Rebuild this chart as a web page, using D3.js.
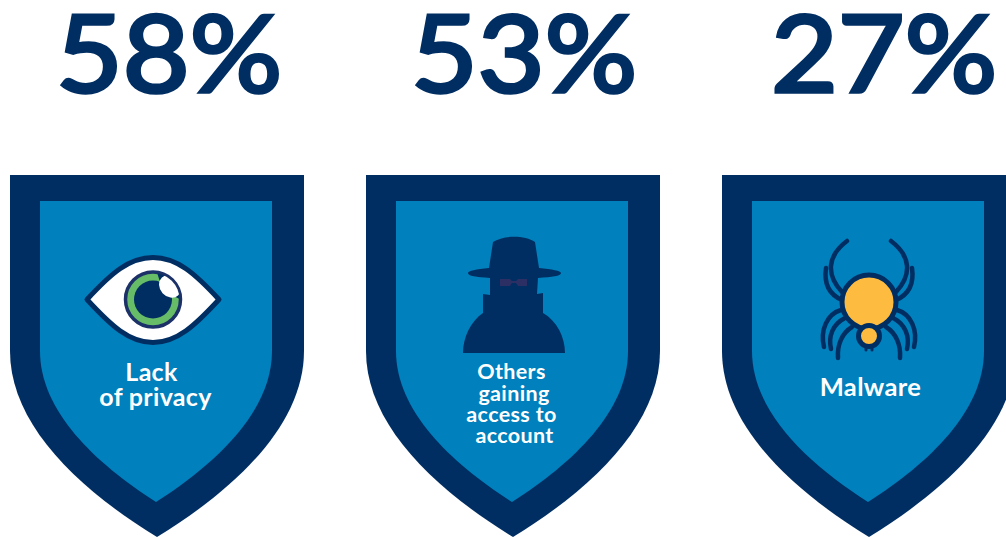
<!DOCTYPE html>
<html>
<head>
<meta charset="utf-8">
<script src="https://cdnjs.cloudflare.com/ajax/libs/d3/7.8.5/d3.min.js"></script>
<style>
  html, body { margin: 0; padding: 0; background: #fff; }
  svg { display: block; }
  text { font-family: Lato, "Open Sans", sans-serif; }
</style>
</head>
<body>
<svg id="chart" width="1006" height="537"></svg>
<script>
// Share of respondents worried about each risk
const categories = ["Lack of privacy", "Others gaining access to account", "Malware"];
const shares = [58, 53, 27];
const labelLines = [
  ["Lack", "of privacy"],
  ["Others", "gaining", "access to", "account"],
  ["Malware"]
];

const NAVY = "#002e62", BLUE = "#0080bc", GREEN = "#66bc67", GOLD = "#fdbc40", WHITE = "#ffffff";

const svg = d3.select("#chart");

// One column per category; each column holds a badge 294 wide
const x = d3.scaleBand().domain(categories).range([10, 1078]).paddingInner(0).paddingOuter(0);

// Badge outline, local coordinates with the top-left corner at the origin
function outerShield() {
  const p = d3.path();
  p.moveTo(0, 0);
  p.lineTo(294, 0);
  p.lineTo(294, 176);
  p.bezierCurveTo(294, 246, 232, 310, 147, 362);
  p.bezierCurveTo(62, 310, 0, 246, 0, 176);
  p.closePath();
  return p.toString();
}
function innerShield() {
  const p = d3.path();
  p.moveTo(30, 26);
  p.lineTo(262, 26);
  p.lineTo(262, 176);
  p.bezierCurveTo(262, 236, 207, 288, 146, 327);
  p.bezierCurveTo(85, 288, 30, 236, 30, 176);
  p.closePath();
  return p.toString();
}

const columns = svg.selectAll("g.column")
  .data(categories.map((c, i) => ({ category: c, share: shares[i], lines: labelLines[i], i })))
  .join("g")
  .attr("class", "column")
  .attr("transform", d => `translate(${x(d.category)},0)`);

columns.append("path").attr("d", outerShield()).attr("transform", "translate(0,175)").attr("fill", NAVY);
columns.append("path").attr("d", innerShield()).attr("transform", "translate(0,175)").attr("fill", BLUE);

// Headline percentages, stretched a little and thickened to a medium weight
const headlineX = [46, 45, 49];
columns.append("text")
  .attr("x", (d, i) => headlineX[i])
  .attr("y", 92)
  .attr("font-size", 107)
  .attr("font-weight", 400)
  .attr("fill", NAVY)
  .attr("stroke", NAVY)
  .attr("stroke-width", 3.6)
  .attr("textLength", 226)
  .attr("lengthAdjust", "spacingAndGlyphs")
  .text(d => d.share + "%");

// Caption lines inside each badge
const lineX = [[141.5, 145.5], [145.5, 148, 145.5, 148.5], [148.5]];
const lineY = [[381, 406], [379, 401, 422, 443], [396]];
const lineSize = [25, 21.5, 25.5];
const lineSpacing = [0.3, 0.35, 0.35];
columns.each(function (d, i) {
  d3.select(this).selectAll("text.caption")
    .data(d.lines)
    .join("text")
    .attr("class", "caption")
    .attr("x", (_, j) => lineX[i][j])
    .attr("y", (_, j) => lineY[i][j])
    .attr("text-anchor", "middle")
    .attr("font-size", lineSize[i])
    .attr("letter-spacing", lineSpacing[i])
    .attr("font-weight", 700)
    .attr("fill", WHITE)
    .text(t => t);
});

// Eye icon for the privacy badge
const eye = svg.append("g").attr("transform", "translate(153,299.5)");
eye.append("path")
  .attr("d", "M-66,0 C-42,-26 -24,-42 0,-42 C24,-42 42,-26 66,0 C42,26 24,43 0,43 C-24,43 -42,26 -66,0 Z")
  .attr("fill", WHITE).attr("stroke", NAVY).attr("stroke-width", 5).attr("stroke-linejoin", "round");
eye.append("circle").attr("r", 27.5).attr("fill", GREEN).attr("stroke", "#1c3168").attr("stroke-width", 3.5);
eye.append("circle").attr("r", 19).attr("fill", NAVY);
// Catch-light with a dark arc along its upper edge, cut off where the iris ends
eye.append("clipPath").attr("id", "iris").append("circle").attr("r", 26.5);
const glint = eye.append("g").attr("clip-path", "url(#iris)");
glint.append("path").attr("d", "M4,-27 L28,-27 L28,0 L10,-8 Z").attr("fill", NAVY);
glint.append("ellipse").attr("cx", 17).attr("cy", -13).attr("rx", 10).attr("ry", 12)
  .attr("transform", "rotate(-42 17 -13)").attr("fill", WHITE);

// Hat-and-coat figure for the account badge
const spy = svg.append("g");
spy.append("path").attr("fill", NAVY).attr("d",
  "M493,242 C503,235 525,235 535,242 L539,268 C552,269 561,271 561,273 C561,276 552,277 538,278 L537,294 L543,293 L543,313 C557,321 565,337 565,353 L463,353 C463,337 471,321 483,313 L483,294 L490,295 L490,278 C476,277 468,276 468,273 C468,271 476,269 489,268 Z");
spy.append("path").attr("fill", "#2b2f63")
  .attr("d", "M500,279 L510,279 L512,281 L516,281 L518,279 L527,279 L527,286 L518,286 L516,283 L512,283 L510,286 L500,286 Z");

// Spider icon for the malware badge; legs are mirrored about the body axis
const spider = svg.append("g").attr("transform", "translate(869,0)");
const legs = [
  "M-27,292 C-43,275 -42,256 -22,241",
  "M-43,268 C-45,282 -41,294 -27,300",
  "M-28,310 C-42,314 -49,330 -45,347",
  "M-24,318 C-36,324 -41,336 -38,349",
  "M-17,327 C-27,333 -32,345 -31,358"
];
[1, -1].forEach(side => {
  spider.append("g").attr("transform", `scale(${side},1)`)
    .selectAll("path").data(legs).join("path")
    .attr("d", d => d)
    .attr("fill", "none").attr("stroke", NAVY).attr("stroke-width", 4.5).attr("stroke-linecap", "round");
});
spider.append("path").attr("d", "M-3,346 L-3,350 M3,346 L3,350")
  .attr("stroke", NAVY).attr("stroke-width", 3).attr("stroke-linecap", "round");
spider.append("circle").attr("cy", 302).attr("r", 27).attr("fill", GOLD).attr("stroke", NAVY).attr("stroke-width", 5);
spider.append("circle").attr("cy", 336).attr("r", 10.5).attr("fill", GOLD).attr("stroke", NAVY).attr("stroke-width", 5);
</script>
</body>
</html>
